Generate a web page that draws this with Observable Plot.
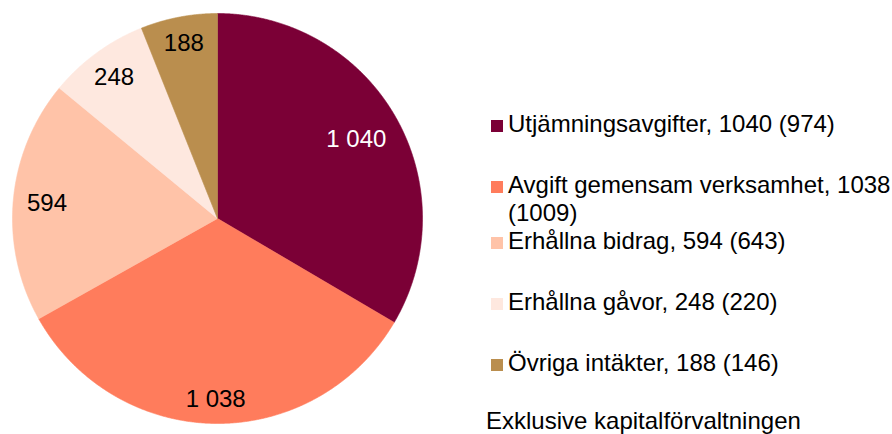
<!DOCTYPE html>
<html>
<head>
<meta charset="utf-8">
<script src="https://cdn.jsdelivr.net/npm/d3@7"></script>
<script src="https://cdn.jsdelivr.net/npm/@observablehq/plot@0.6"></script>
<style>
  html, body { margin: 0; padding: 0; background: #fff; }
  #wrap { position: relative; width: 892px; height: 434px; overflow: hidden; font-family: "Liberation Sans", Arial, sans-serif; color: #000; }
  #chart { position: absolute; left: 0; top: 0; }
  #legend { position: absolute; left: 491px; top: 109.5px; font-size: 24px; line-height: 28px; }
  .item { display: flex; align-items: flex-start; margin-bottom: 33px; }
  .item.tight { margin-bottom: 0.5px; }
  .sw { width: 12px; height: 12px; flex: none; margin-top: 10px; margin-right: 5px; }
  #note { position: absolute; left: 486px; top: 406.5px; font-size: 24px; line-height: 28px; white-space: nowrap; }
</style>
</head>
<body>
<div id="wrap">
  <div id="chart"></div>
  <div id="legend"></div>
  <div id="note">Exklusive kapitalförvaltningen</div>
</div>
<script>
const categories = ["Utjämningsavgifter", "Avgift gemensam verksamhet", "Erhållna bidrag", "Erhållna gåvor", "Övriga intäkter"];
const values = [1040, 1038, 594, 248, 188];
const previous = [974, 1009, 643, 220, 146];
const colors = ["#7b0036", "#ff7c5c", "#ffc3a8", "#fee8df", "#ba8e4e"];

// layout (not data): label distance from centre as fraction of radius
const labelRadius = [0.78, 0.88, 0.835, 0.855, 0.87];

const rows = categories.map((c, i) => ({cat: c, value: values[i], prev: previous[i]}));
const arcs = d3.pie().sort(null).value(d => d.value)(rows);

const pts = [];
arcs.forEach(a => {
  const n = Math.max(2, Math.ceil((a.endAngle - a.startAngle) / 0.004));
  pts.push({cat: a.data.cat, x: 0, y: 0});
  for (let k = 0; k <= n; k++) {
    const t = a.startAngle + (a.endAngle - a.startAngle) * k / n;
    pts.push({cat: a.data.cat, x: Math.sin(t), y: Math.cos(t)});
  }
  pts.push({cat: a.data.cat, x: 0, y: 0});
});

const fmt = d3.formatLocale({decimal: ",", thousands: " ", grouping: [3], currency: ["", " kr"]}).format(",d");
const labels = arcs.map((a, i) => {
  const m = (a.startAngle + a.endAngle) / 2;
  const r = labelRadius[i];
  return {cat: a.data.cat, text: fmt(a.data.value), x: r * Math.sin(m), y: r * Math.cos(m), i};
});

const plot = Plot.plot({
  width: 892,
  height: 434,
  margin: 0,
  style: {fontFamily: "'Liberation Sans', Arial, sans-serif", background: "transparent"},
  x: {domain: [-1, 1], range: [12, 422], axis: null},
  y: {domain: [-1, 1], range: [423, 13], axis: null},
  color: {domain: categories, range: colors},
  marks: [
    Plot.line(pts, {x: "x", y: "y", z: "cat", fill: "cat", stroke: "cat", strokeWidth: 0.6, curve: "linear"}),
    Plot.text(labels.filter(d => d.i === 0), {x: "x", y: "y", text: "text", fill: "white", fontSize: 24}),
    Plot.text(labels.filter(d => d.i !== 0), {x: "x", y: "y", text: "text", fill: "black", fontSize: 24})
  ]
});
document.getElementById("chart").appendChild(plot);

const legend = document.getElementById("legend");
rows.forEach((r, i) => {
  const item = document.createElement("div");
  item.className = "item" + (i === 1 ? " tight" : "");
  const sw = document.createElement("div");
  sw.className = "sw";
  sw.style.background = colors[i];
  const tx = document.createElement("div");
  if (i === 1) {
    tx.innerHTML = `${r.cat}, ${r.value}<br>(${r.prev})`;
  } else {
    tx.textContent = `${r.cat}, ${r.value} (${r.prev})`;
  }
  tx.style.whiteSpace = "nowrap";
  item.appendChild(sw);
  item.appendChild(tx);
  legend.appendChild(item);
});
</script>
</body>
</html>
